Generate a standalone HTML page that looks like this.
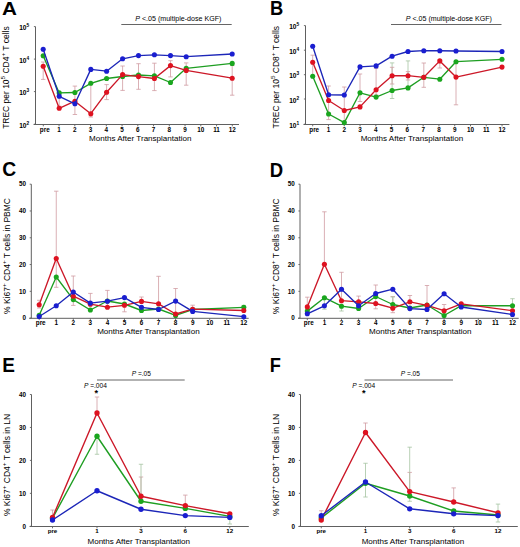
<!DOCTYPE html>
<html><head><meta charset="utf-8"><style>
html,body{margin:0;padding:0;background:#fff;}
svg{display:block;font-family:"Liberation Sans", sans-serif;}
</style></head><body>
<svg width="520" height="547" viewBox="0 0 520 547">
<rect width="520" height="547" fill="#fff"/>
<text transform="translate(2.10,14.70) scale(1.1,1)" x="0" y="0" font-size="18.8" font-weight="bold">A</text>
<line x1="35.50" y1="26.60" x2="35.50" y2="124.50" stroke="#606060" stroke-width="1.0"/>
<line x1="33.60" y1="124.50" x2="239.00" y2="124.50" stroke="#606060" stroke-width="1.0"/>
<line x1="33.90" y1="26.60" x2="35.50" y2="26.60" stroke="#606060" stroke-width="0.9"/>
<line x1="33.90" y1="59.10" x2="35.50" y2="59.10" stroke="#606060" stroke-width="0.9"/>
<line x1="33.90" y1="91.60" x2="35.50" y2="91.60" stroke="#606060" stroke-width="0.9"/>
<line x1="33.90" y1="124.20" x2="35.50" y2="124.20" stroke="#606060" stroke-width="0.9"/>
<line x1="43.30" y1="124.50" x2="43.30" y2="126.30" stroke="#606060" stroke-width="0.9"/>
<line x1="59.05" y1="124.50" x2="59.05" y2="126.30" stroke="#606060" stroke-width="0.9"/>
<line x1="74.80" y1="124.50" x2="74.80" y2="126.30" stroke="#606060" stroke-width="0.9"/>
<line x1="90.55" y1="124.50" x2="90.55" y2="126.30" stroke="#606060" stroke-width="0.9"/>
<line x1="106.30" y1="124.50" x2="106.30" y2="126.30" stroke="#606060" stroke-width="0.9"/>
<line x1="122.05" y1="124.50" x2="122.05" y2="126.30" stroke="#606060" stroke-width="0.9"/>
<line x1="137.80" y1="124.50" x2="137.80" y2="126.30" stroke="#606060" stroke-width="0.9"/>
<line x1="153.55" y1="124.50" x2="153.55" y2="126.30" stroke="#606060" stroke-width="0.9"/>
<line x1="169.30" y1="124.50" x2="169.30" y2="126.30" stroke="#606060" stroke-width="0.9"/>
<line x1="185.05" y1="124.50" x2="185.05" y2="126.30" stroke="#606060" stroke-width="0.9"/>
<line x1="200.80" y1="124.50" x2="200.80" y2="126.30" stroke="#606060" stroke-width="0.9"/>
<line x1="216.55" y1="124.50" x2="216.55" y2="126.30" stroke="#606060" stroke-width="0.9"/>
<line x1="232.30" y1="124.50" x2="232.30" y2="126.30" stroke="#606060" stroke-width="0.9"/>
<text x="29.20" y="30.30" font-size="6.6" font-weight="bold" text-anchor="end">10<tspan font-size="4.75" dy="-2.97">5</tspan></text>
<text x="29.20" y="62.80" font-size="6.6" font-weight="bold" text-anchor="end">10<tspan font-size="4.75" dy="-2.97">4</tspan></text>
<text x="29.20" y="95.30" font-size="6.6" font-weight="bold" text-anchor="end">10<tspan font-size="4.75" dy="-2.97">3</tspan></text>
<text x="29.20" y="127.90" font-size="6.6" font-weight="bold" text-anchor="end">10<tspan font-size="4.75" dy="-2.97">2</tspan></text>
<text x="44.80" y="131.70" font-size="6.35" font-weight="bold" text-anchor="middle" fill="#000" >pre</text>
<text x="59.05" y="131.70" font-size="6.35" font-weight="bold" text-anchor="middle" fill="#000" >1</text>
<text x="74.80" y="131.70" font-size="6.35" font-weight="bold" text-anchor="middle" fill="#000" >2</text>
<text x="90.55" y="131.70" font-size="6.35" font-weight="bold" text-anchor="middle" fill="#000" >3</text>
<text x="106.30" y="131.70" font-size="6.35" font-weight="bold" text-anchor="middle" fill="#000" >4</text>
<text x="122.05" y="131.70" font-size="6.35" font-weight="bold" text-anchor="middle" fill="#000" >5</text>
<text x="137.80" y="131.70" font-size="6.35" font-weight="bold" text-anchor="middle" fill="#000" >6</text>
<text x="153.55" y="131.70" font-size="6.35" font-weight="bold" text-anchor="middle" fill="#000" >7</text>
<text x="169.30" y="131.70" font-size="6.35" font-weight="bold" text-anchor="middle" fill="#000" >8</text>
<text x="185.05" y="131.70" font-size="6.35" font-weight="bold" text-anchor="middle" fill="#000" >9</text>
<text x="200.80" y="131.70" font-size="6.35" font-weight="bold" text-anchor="middle" fill="#000" >10</text>
<text x="216.55" y="131.70" font-size="6.35" font-weight="bold" text-anchor="middle" fill="#000" >11</text>
<text x="232.30" y="131.70" font-size="6.35" font-weight="bold" text-anchor="middle" fill="#000" >12</text>
<text x="140.30" y="140.50" font-size="8.05" font-weight="normal" text-anchor="middle" fill="#000" >Months After Transplantation</text>
<text transform="translate(9.10,77.60) rotate(-90) scale(1.035,1)" x="0" y="0" font-size="8.2" text-anchor="middle">TREC per 10<tspan font-size="6.15" dy="-3.77">5</tspan><tspan dy="3.77"> CD4</tspan><tspan font-size="6.15" dy="-3.77">+</tspan><tspan dy="3.77"> T cells</tspan></text>
<line x1="121.30" y1="24.50" x2="231.70" y2="24.50" stroke="#666" stroke-width="1.0"/>
<text x="178.3" y="21.3" font-size="7.1" text-anchor="middle"><tspan font-style="italic">P</tspan> &lt;.05 (multiple-dose KGF)</text>
<line x1="43.20" y1="62.00" x2="43.20" y2="79.40" stroke="#d09ca2" stroke-width="0.8"/>
<line x1="41.00" y1="62.00" x2="45.40" y2="62.00" stroke="#d09ca2" stroke-width="0.8"/>
<line x1="41.00" y1="79.40" x2="45.40" y2="79.40" stroke="#d09ca2" stroke-width="0.8"/>
<line x1="59.20" y1="94.70" x2="59.20" y2="106.20" stroke="#d09ca2" stroke-width="0.8"/>
<line x1="57.00" y1="94.70" x2="61.40" y2="94.70" stroke="#d09ca2" stroke-width="0.8"/>
<line x1="57.00" y1="106.20" x2="61.40" y2="106.20" stroke="#d09ca2" stroke-width="0.8"/>
<line x1="74.90" y1="86.10" x2="74.90" y2="114.50" stroke="#d09ca2" stroke-width="0.8"/>
<line x1="72.70" y1="86.10" x2="77.10" y2="86.10" stroke="#d09ca2" stroke-width="0.8"/>
<line x1="72.70" y1="114.50" x2="77.10" y2="114.50" stroke="#d09ca2" stroke-width="0.8"/>
<line x1="90.80" y1="83.80" x2="90.80" y2="117.00" stroke="#d09ca2" stroke-width="0.8"/>
<line x1="88.60" y1="83.80" x2="93.00" y2="83.80" stroke="#d09ca2" stroke-width="0.8"/>
<line x1="88.60" y1="117.00" x2="93.00" y2="117.00" stroke="#d09ca2" stroke-width="0.8"/>
<line x1="106.60" y1="84.60" x2="106.60" y2="99.60" stroke="#d09ca2" stroke-width="0.8"/>
<line x1="104.40" y1="84.60" x2="108.80" y2="84.60" stroke="#d09ca2" stroke-width="0.8"/>
<line x1="104.40" y1="99.60" x2="108.80" y2="99.60" stroke="#d09ca2" stroke-width="0.8"/>
<line x1="122.60" y1="66.00" x2="122.60" y2="90.40" stroke="#d09ca2" stroke-width="0.8"/>
<line x1="120.40" y1="66.00" x2="124.80" y2="66.00" stroke="#d09ca2" stroke-width="0.8"/>
<line x1="120.40" y1="90.40" x2="124.80" y2="90.40" stroke="#d09ca2" stroke-width="0.8"/>
<line x1="138.50" y1="63.70" x2="138.50" y2="89.30" stroke="#d09ca2" stroke-width="0.8"/>
<line x1="136.30" y1="63.70" x2="140.70" y2="63.70" stroke="#d09ca2" stroke-width="0.8"/>
<line x1="136.30" y1="89.30" x2="140.70" y2="89.30" stroke="#d09ca2" stroke-width="0.8"/>
<line x1="154.40" y1="63.20" x2="154.40" y2="90.60" stroke="#d09ca2" stroke-width="0.8"/>
<line x1="152.20" y1="63.20" x2="156.60" y2="63.20" stroke="#d09ca2" stroke-width="0.8"/>
<line x1="152.20" y1="90.60" x2="156.60" y2="90.60" stroke="#d09ca2" stroke-width="0.8"/>
<line x1="170.50" y1="60.70" x2="170.50" y2="76.90" stroke="#d09ca2" stroke-width="0.8"/>
<line x1="168.30" y1="60.70" x2="172.70" y2="60.70" stroke="#d09ca2" stroke-width="0.8"/>
<line x1="168.30" y1="76.90" x2="172.70" y2="76.90" stroke="#d09ca2" stroke-width="0.8"/>
<line x1="186.20" y1="62.90" x2="186.20" y2="85.20" stroke="#d09ca2" stroke-width="0.8"/>
<line x1="184.00" y1="62.90" x2="188.40" y2="62.90" stroke="#d09ca2" stroke-width="0.8"/>
<line x1="184.00" y1="85.20" x2="188.40" y2="85.20" stroke="#d09ca2" stroke-width="0.8"/>
<line x1="232.20" y1="65.60" x2="232.20" y2="95.20" stroke="#d09ca2" stroke-width="0.8"/>
<line x1="230.00" y1="65.60" x2="234.40" y2="65.60" stroke="#d09ca2" stroke-width="0.8"/>
<line x1="230.00" y1="95.20" x2="234.40" y2="95.20" stroke="#d09ca2" stroke-width="0.8"/>
<polyline points="43.20,55.80 59.20,92.90 74.90,92.50 90.80,83.30 106.60,78.50 122.60,76.50 138.50,75.00 154.40,75.80 170.50,82.50 186.20,68.30 232.20,63.40" fill="none" stroke="#1e9e22" stroke-width="1.35" stroke-linejoin="round"/>
<circle cx="43.20" cy="55.80" r="2.55" fill="#1aa61e"/>
<circle cx="59.20" cy="92.90" r="2.55" fill="#1aa61e"/>
<circle cx="74.90" cy="92.50" r="2.55" fill="#1aa61e"/>
<circle cx="90.80" cy="83.30" r="2.55" fill="#1aa61e"/>
<circle cx="106.60" cy="78.50" r="2.55" fill="#1aa61e"/>
<circle cx="122.60" cy="76.50" r="2.55" fill="#1aa61e"/>
<circle cx="138.50" cy="75.00" r="2.55" fill="#1aa61e"/>
<circle cx="154.40" cy="75.80" r="2.55" fill="#1aa61e"/>
<circle cx="170.50" cy="82.50" r="2.55" fill="#1aa61e"/>
<circle cx="186.20" cy="68.30" r="2.55" fill="#1aa61e"/>
<circle cx="232.20" cy="63.40" r="2.55" fill="#1aa61e"/>
<polyline points="43.20,66.30 59.20,108.30 74.90,101.20 90.80,113.70 106.60,92.30 122.60,74.60 138.50,76.60 154.40,78.50 170.50,65.60 186.20,70.40 232.20,78.20" fill="none" stroke="#cc1828" stroke-width="1.35" stroke-linejoin="round"/>
<circle cx="43.20" cy="66.30" r="2.55" fill="#de1220"/>
<circle cx="59.20" cy="108.30" r="2.55" fill="#de1220"/>
<circle cx="74.90" cy="101.20" r="2.55" fill="#de1220"/>
<circle cx="90.80" cy="113.70" r="2.55" fill="#de1220"/>
<circle cx="106.60" cy="92.30" r="2.55" fill="#de1220"/>
<circle cx="122.60" cy="74.60" r="2.55" fill="#de1220"/>
<circle cx="138.50" cy="76.60" r="2.55" fill="#de1220"/>
<circle cx="154.40" cy="78.50" r="2.55" fill="#de1220"/>
<circle cx="170.50" cy="65.60" r="2.55" fill="#de1220"/>
<circle cx="186.20" cy="70.40" r="2.55" fill="#de1220"/>
<circle cx="232.20" cy="78.20" r="2.55" fill="#de1220"/>
<polyline points="43.20,49.20 59.20,96.30 74.90,103.80 90.80,69.40 106.60,71.20 122.60,58.80 138.50,55.60 154.40,54.80 170.50,55.60 186.20,56.70 232.20,54.00" fill="none" stroke="#1c26b8" stroke-width="1.35" stroke-linejoin="round"/>
<circle cx="43.20" cy="49.20" r="2.55" fill="#1a1ed0"/>
<circle cx="59.20" cy="96.30" r="2.55" fill="#1a1ed0"/>
<circle cx="74.90" cy="103.80" r="2.55" fill="#1a1ed0"/>
<circle cx="90.80" cy="69.40" r="2.55" fill="#1a1ed0"/>
<circle cx="106.60" cy="71.20" r="2.55" fill="#1a1ed0"/>
<circle cx="122.60" cy="58.80" r="2.55" fill="#1a1ed0"/>
<circle cx="138.50" cy="55.60" r="2.55" fill="#1a1ed0"/>
<circle cx="154.40" cy="54.80" r="2.55" fill="#1a1ed0"/>
<circle cx="170.50" cy="55.60" r="2.55" fill="#1a1ed0"/>
<circle cx="186.20" cy="56.70" r="2.55" fill="#1a1ed0"/>
<circle cx="232.20" cy="54.00" r="2.55" fill="#1a1ed0"/>
<text transform="translate(270.00,14.90) scale(0.95,1)" x="0" y="0" font-size="19.3" font-weight="bold">B</text>
<line x1="305.50" y1="25.60" x2="305.50" y2="124.50" stroke="#606060" stroke-width="1.0"/>
<line x1="303.50" y1="124.50" x2="509.40" y2="124.50" stroke="#606060" stroke-width="1.0"/>
<line x1="303.90" y1="25.60" x2="305.50" y2="25.60" stroke="#606060" stroke-width="0.9"/>
<line x1="303.90" y1="50.20" x2="305.50" y2="50.20" stroke="#606060" stroke-width="0.9"/>
<line x1="303.90" y1="74.70" x2="305.50" y2="74.70" stroke="#606060" stroke-width="0.9"/>
<line x1="303.90" y1="99.00" x2="305.50" y2="99.00" stroke="#606060" stroke-width="0.9"/>
<line x1="303.90" y1="124.20" x2="305.50" y2="124.20" stroke="#606060" stroke-width="0.9"/>
<line x1="312.70" y1="124.50" x2="312.70" y2="126.30" stroke="#606060" stroke-width="0.9"/>
<line x1="328.48" y1="124.50" x2="328.48" y2="126.30" stroke="#606060" stroke-width="0.9"/>
<line x1="344.26" y1="124.50" x2="344.26" y2="126.30" stroke="#606060" stroke-width="0.9"/>
<line x1="360.04" y1="124.50" x2="360.04" y2="126.30" stroke="#606060" stroke-width="0.9"/>
<line x1="375.82" y1="124.50" x2="375.82" y2="126.30" stroke="#606060" stroke-width="0.9"/>
<line x1="391.60" y1="124.50" x2="391.60" y2="126.30" stroke="#606060" stroke-width="0.9"/>
<line x1="407.38" y1="124.50" x2="407.38" y2="126.30" stroke="#606060" stroke-width="0.9"/>
<line x1="423.16" y1="124.50" x2="423.16" y2="126.30" stroke="#606060" stroke-width="0.9"/>
<line x1="438.94" y1="124.50" x2="438.94" y2="126.30" stroke="#606060" stroke-width="0.9"/>
<line x1="454.72" y1="124.50" x2="454.72" y2="126.30" stroke="#606060" stroke-width="0.9"/>
<line x1="470.50" y1="124.50" x2="470.50" y2="126.30" stroke="#606060" stroke-width="0.9"/>
<line x1="486.28" y1="124.50" x2="486.28" y2="126.30" stroke="#606060" stroke-width="0.9"/>
<line x1="502.06" y1="124.50" x2="502.06" y2="126.30" stroke="#606060" stroke-width="0.9"/>
<text x="299.20" y="29.30" font-size="6.6" font-weight="bold" text-anchor="end">10<tspan font-size="4.75" dy="-2.97">5</tspan></text>
<text x="299.20" y="53.90" font-size="6.6" font-weight="bold" text-anchor="end">10<tspan font-size="4.75" dy="-2.97">4</tspan></text>
<text x="299.20" y="78.40" font-size="6.6" font-weight="bold" text-anchor="end">10<tspan font-size="4.75" dy="-2.97">3</tspan></text>
<text x="299.20" y="102.70" font-size="6.6" font-weight="bold" text-anchor="end">10<tspan font-size="4.75" dy="-2.97">2</tspan></text>
<text x="299.20" y="127.90" font-size="6.6" font-weight="bold" text-anchor="end">10<tspan font-size="4.75" dy="-2.97">1</tspan></text>
<text x="314.20" y="131.80" font-size="6.35" font-weight="bold" text-anchor="middle" fill="#000" >pre</text>
<text x="328.48" y="131.80" font-size="6.35" font-weight="bold" text-anchor="middle" fill="#000" >1</text>
<text x="344.26" y="131.80" font-size="6.35" font-weight="bold" text-anchor="middle" fill="#000" >2</text>
<text x="360.04" y="131.80" font-size="6.35" font-weight="bold" text-anchor="middle" fill="#000" >3</text>
<text x="375.82" y="131.80" font-size="6.35" font-weight="bold" text-anchor="middle" fill="#000" >4</text>
<text x="391.60" y="131.80" font-size="6.35" font-weight="bold" text-anchor="middle" fill="#000" >5</text>
<text x="407.38" y="131.80" font-size="6.35" font-weight="bold" text-anchor="middle" fill="#000" >6</text>
<text x="423.16" y="131.80" font-size="6.35" font-weight="bold" text-anchor="middle" fill="#000" >7</text>
<text x="438.94" y="131.80" font-size="6.35" font-weight="bold" text-anchor="middle" fill="#000" >8</text>
<text x="454.72" y="131.80" font-size="6.35" font-weight="bold" text-anchor="middle" fill="#000" >9</text>
<text x="470.50" y="131.80" font-size="6.35" font-weight="bold" text-anchor="middle" fill="#000" >10</text>
<text x="486.28" y="131.80" font-size="6.35" font-weight="bold" text-anchor="middle" fill="#000" >11</text>
<text x="502.06" y="131.80" font-size="6.35" font-weight="bold" text-anchor="middle" fill="#000" >12</text>
<text x="411.90" y="140.50" font-size="8.05" font-weight="normal" text-anchor="middle" fill="#000" >Months After Transplantation</text>
<text transform="translate(279.00,77.25) rotate(-90) scale(1.035,1)" x="0" y="0" font-size="8.2" text-anchor="middle">TREC per 10<tspan font-size="6.15" dy="-3.77">5</tspan><tspan dy="3.77"> CD8</tspan><tspan font-size="6.15" dy="-3.77">+</tspan><tspan dy="3.77"> T cells</tspan></text>
<line x1="391.00" y1="24.50" x2="501.50" y2="24.50" stroke="#666" stroke-width="1.0"/>
<text x="448.8" y="21.3" font-size="7.1" text-anchor="middle"><tspan font-style="italic">P</tspan> &lt;.05 (multiple-dose KGF)</text>
<line x1="312.70" y1="55.20" x2="312.70" y2="76.00" stroke="#d09ca2" stroke-width="0.8"/>
<line x1="310.50" y1="55.20" x2="314.90" y2="55.20" stroke="#d09ca2" stroke-width="0.8"/>
<line x1="310.50" y1="76.00" x2="314.90" y2="76.00" stroke="#d09ca2" stroke-width="0.8"/>
<line x1="328.60" y1="86.00" x2="328.60" y2="119.60" stroke="#d09ca2" stroke-width="0.8"/>
<line x1="326.40" y1="86.00" x2="330.80" y2="86.00" stroke="#d09ca2" stroke-width="0.8"/>
<line x1="326.40" y1="119.60" x2="330.80" y2="119.60" stroke="#d09ca2" stroke-width="0.8"/>
<line x1="344.30" y1="87.00" x2="344.30" y2="123.00" stroke="#d09ca2" stroke-width="0.8"/>
<line x1="342.10" y1="87.00" x2="346.50" y2="87.00" stroke="#d09ca2" stroke-width="0.8"/>
<line x1="342.10" y1="123.00" x2="346.50" y2="123.00" stroke="#d09ca2" stroke-width="0.8"/>
<line x1="360.00" y1="74.00" x2="360.00" y2="101.50" stroke="#d09ca2" stroke-width="0.8"/>
<line x1="357.80" y1="74.00" x2="362.20" y2="74.00" stroke="#d09ca2" stroke-width="0.8"/>
<line x1="357.80" y1="101.50" x2="362.20" y2="101.50" stroke="#d09ca2" stroke-width="0.8"/>
<line x1="376.10" y1="68.30" x2="376.10" y2="95.00" stroke="#d09ca2" stroke-width="0.8"/>
<line x1="373.90" y1="68.30" x2="378.30" y2="68.30" stroke="#d09ca2" stroke-width="0.8"/>
<line x1="373.90" y1="95.00" x2="378.30" y2="95.00" stroke="#d09ca2" stroke-width="0.8"/>
<line x1="392.10" y1="62.90" x2="392.10" y2="98.50" stroke="#a6c4a2" stroke-width="0.8"/>
<line x1="389.90" y1="62.90" x2="394.30" y2="62.90" stroke="#a6c4a2" stroke-width="0.8"/>
<line x1="389.90" y1="98.50" x2="394.30" y2="98.50" stroke="#a6c4a2" stroke-width="0.8"/>
<line x1="408.00" y1="60.90" x2="408.00" y2="88.00" stroke="#a6c4a2" stroke-width="0.8"/>
<line x1="405.80" y1="60.90" x2="410.20" y2="60.90" stroke="#a6c4a2" stroke-width="0.8"/>
<line x1="405.80" y1="88.00" x2="410.20" y2="88.00" stroke="#a6c4a2" stroke-width="0.8"/>
<line x1="423.80" y1="63.00" x2="423.80" y2="87.30" stroke="#d09ca2" stroke-width="0.8"/>
<line x1="421.60" y1="63.00" x2="426.00" y2="63.00" stroke="#d09ca2" stroke-width="0.8"/>
<line x1="421.60" y1="87.30" x2="426.00" y2="87.30" stroke="#d09ca2" stroke-width="0.8"/>
<line x1="439.80" y1="60.00" x2="439.80" y2="68.00" stroke="#d09ca2" stroke-width="0.8"/>
<line x1="437.60" y1="60.00" x2="442.00" y2="60.00" stroke="#d09ca2" stroke-width="0.8"/>
<line x1="437.60" y1="68.00" x2="442.00" y2="68.00" stroke="#d09ca2" stroke-width="0.8"/>
<line x1="456.00" y1="63.00" x2="456.00" y2="104.80" stroke="#d09ca2" stroke-width="0.8"/>
<line x1="453.80" y1="63.00" x2="458.20" y2="63.00" stroke="#d09ca2" stroke-width="0.8"/>
<line x1="453.80" y1="104.80" x2="458.20" y2="104.80" stroke="#d09ca2" stroke-width="0.8"/>
<line x1="392.10" y1="67.30" x2="392.10" y2="84.00" stroke="#d09ca2" stroke-width="0.8"/>
<line x1="389.90" y1="67.30" x2="394.30" y2="67.30" stroke="#d09ca2" stroke-width="0.8"/>
<line x1="389.90" y1="84.00" x2="394.30" y2="84.00" stroke="#d09ca2" stroke-width="0.8"/>
<line x1="408.00" y1="71.60" x2="408.00" y2="80.00" stroke="#d09ca2" stroke-width="0.8"/>
<line x1="405.80" y1="71.60" x2="410.20" y2="71.60" stroke="#d09ca2" stroke-width="0.8"/>
<line x1="405.80" y1="80.00" x2="410.20" y2="80.00" stroke="#d09ca2" stroke-width="0.8"/>
<polyline points="312.70,76.30 328.60,114.00 344.30,122.60 360.00,92.80 376.10,97.10 392.10,90.50 408.00,87.90 423.80,77.30 439.80,79.20 456.00,61.70 502.00,59.30" fill="none" stroke="#1e9e22" stroke-width="1.35" stroke-linejoin="round"/>
<circle cx="312.70" cy="76.30" r="2.55" fill="#1aa61e"/>
<circle cx="328.60" cy="114.00" r="2.55" fill="#1aa61e"/>
<circle cx="344.30" cy="122.60" r="2.55" fill="#1aa61e"/>
<circle cx="360.00" cy="92.80" r="2.55" fill="#1aa61e"/>
<circle cx="376.10" cy="97.10" r="2.55" fill="#1aa61e"/>
<circle cx="392.10" cy="90.50" r="2.55" fill="#1aa61e"/>
<circle cx="408.00" cy="87.90" r="2.55" fill="#1aa61e"/>
<circle cx="423.80" cy="77.30" r="2.55" fill="#1aa61e"/>
<circle cx="439.80" cy="79.20" r="2.55" fill="#1aa61e"/>
<circle cx="456.00" cy="61.70" r="2.55" fill="#1aa61e"/>
<circle cx="502.00" cy="59.30" r="2.55" fill="#1aa61e"/>
<polyline points="312.70,62.30 328.60,100.50 344.30,110.50 360.00,106.90 376.10,89.80 392.10,75.70 408.00,75.70 423.80,77.30 439.80,60.90 456.00,77.10 502.00,67.10" fill="none" stroke="#cc1828" stroke-width="1.35" stroke-linejoin="round"/>
<circle cx="312.70" cy="62.30" r="2.55" fill="#de1220"/>
<circle cx="328.60" cy="100.50" r="2.55" fill="#de1220"/>
<circle cx="344.30" cy="110.50" r="2.55" fill="#de1220"/>
<circle cx="360.00" cy="106.90" r="2.55" fill="#de1220"/>
<circle cx="376.10" cy="89.80" r="2.55" fill="#de1220"/>
<circle cx="392.10" cy="75.70" r="2.55" fill="#de1220"/>
<circle cx="408.00" cy="75.70" r="2.55" fill="#de1220"/>
<circle cx="423.80" cy="77.30" r="2.55" fill="#de1220"/>
<circle cx="439.80" cy="60.90" r="2.55" fill="#de1220"/>
<circle cx="456.00" cy="77.10" r="2.55" fill="#de1220"/>
<circle cx="502.00" cy="67.10" r="2.55" fill="#de1220"/>
<polyline points="312.70,46.20 328.60,94.80 344.30,95.00 360.00,66.90 376.10,65.90 392.10,56.20 408.00,51.50 423.80,50.70 439.80,50.70 456.00,51.00 502.00,51.50" fill="none" stroke="#1c26b8" stroke-width="1.35" stroke-linejoin="round"/>
<circle cx="312.70" cy="46.20" r="2.55" fill="#1a1ed0"/>
<circle cx="328.60" cy="94.80" r="2.55" fill="#1a1ed0"/>
<circle cx="344.30" cy="95.00" r="2.55" fill="#1a1ed0"/>
<circle cx="360.00" cy="66.90" r="2.55" fill="#1a1ed0"/>
<circle cx="376.10" cy="65.90" r="2.55" fill="#1a1ed0"/>
<circle cx="392.10" cy="56.20" r="2.55" fill="#1a1ed0"/>
<circle cx="408.00" cy="51.50" r="2.55" fill="#1a1ed0"/>
<circle cx="423.80" cy="50.70" r="2.55" fill="#1a1ed0"/>
<circle cx="439.80" cy="50.70" r="2.55" fill="#1a1ed0"/>
<circle cx="456.00" cy="51.00" r="2.55" fill="#1a1ed0"/>
<circle cx="502.00" cy="51.50" r="2.55" fill="#1a1ed0"/>
<text transform="translate(2.20,176.40) scale(1.0,1)" x="0" y="0" font-size="19.3" font-weight="bold">C</text>
<line x1="31.30" y1="184.20" x2="31.30" y2="318.30" stroke="#606060" stroke-width="1.0"/>
<line x1="29.20" y1="318.30" x2="248.70" y2="318.30" stroke="#606060" stroke-width="1.0"/>
<line x1="29.70" y1="318.10" x2="31.30" y2="318.10" stroke="#606060" stroke-width="0.9"/>
<line x1="29.70" y1="291.32" x2="31.30" y2="291.32" stroke="#606060" stroke-width="0.9"/>
<line x1="29.70" y1="264.54" x2="31.30" y2="264.54" stroke="#606060" stroke-width="0.9"/>
<line x1="29.70" y1="237.76" x2="31.30" y2="237.76" stroke="#606060" stroke-width="0.9"/>
<line x1="29.70" y1="210.98" x2="31.30" y2="210.98" stroke="#606060" stroke-width="0.9"/>
<line x1="29.70" y1="184.20" x2="31.30" y2="184.20" stroke="#606060" stroke-width="0.9"/>
<line x1="39.20" y1="318.30" x2="39.20" y2="320.10" stroke="#606060" stroke-width="0.9"/>
<line x1="56.25" y1="318.30" x2="56.25" y2="320.10" stroke="#606060" stroke-width="0.9"/>
<line x1="73.30" y1="318.30" x2="73.30" y2="320.10" stroke="#606060" stroke-width="0.9"/>
<line x1="90.35" y1="318.30" x2="90.35" y2="320.10" stroke="#606060" stroke-width="0.9"/>
<line x1="107.40" y1="318.30" x2="107.40" y2="320.10" stroke="#606060" stroke-width="0.9"/>
<line x1="124.45" y1="318.30" x2="124.45" y2="320.10" stroke="#606060" stroke-width="0.9"/>
<line x1="141.50" y1="318.30" x2="141.50" y2="320.10" stroke="#606060" stroke-width="0.9"/>
<line x1="158.55" y1="318.30" x2="158.55" y2="320.10" stroke="#606060" stroke-width="0.9"/>
<line x1="175.60" y1="318.30" x2="175.60" y2="320.10" stroke="#606060" stroke-width="0.9"/>
<line x1="192.65" y1="318.30" x2="192.65" y2="320.10" stroke="#606060" stroke-width="0.9"/>
<line x1="209.70" y1="318.30" x2="209.70" y2="320.10" stroke="#606060" stroke-width="0.9"/>
<line x1="226.75" y1="318.30" x2="226.75" y2="320.10" stroke="#606060" stroke-width="0.9"/>
<line x1="243.80" y1="318.30" x2="243.80" y2="320.10" stroke="#606060" stroke-width="0.9"/>
<text x="26.00" y="320.30" font-size="6.3" font-weight="bold" text-anchor="end" fill="#000" >0</text>
<text x="26.00" y="293.52" font-size="6.3" font-weight="bold" text-anchor="end" fill="#000" >10</text>
<text x="26.00" y="266.74" font-size="6.3" font-weight="bold" text-anchor="end" fill="#000" >20</text>
<text x="26.00" y="239.96" font-size="6.3" font-weight="bold" text-anchor="end" fill="#000" >30</text>
<text x="26.00" y="213.18" font-size="6.3" font-weight="bold" text-anchor="end" fill="#000" >40</text>
<text x="26.00" y="186.40" font-size="6.3" font-weight="bold" text-anchor="end" fill="#000" >50</text>
<text x="40.70" y="324.80" font-size="6.35" font-weight="bold" text-anchor="middle" fill="#000" >pre</text>
<text x="56.25" y="324.80" font-size="6.35" font-weight="bold" text-anchor="middle" fill="#000" >1</text>
<text x="73.30" y="324.80" font-size="6.35" font-weight="bold" text-anchor="middle" fill="#000" >2</text>
<text x="90.35" y="324.80" font-size="6.35" font-weight="bold" text-anchor="middle" fill="#000" >3</text>
<text x="107.40" y="324.80" font-size="6.35" font-weight="bold" text-anchor="middle" fill="#000" >4</text>
<text x="124.45" y="324.80" font-size="6.35" font-weight="bold" text-anchor="middle" fill="#000" >5</text>
<text x="141.50" y="324.80" font-size="6.35" font-weight="bold" text-anchor="middle" fill="#000" >6</text>
<text x="158.55" y="324.80" font-size="6.35" font-weight="bold" text-anchor="middle" fill="#000" >7</text>
<text x="175.60" y="324.80" font-size="6.35" font-weight="bold" text-anchor="middle" fill="#000" >8</text>
<text x="192.65" y="324.80" font-size="6.35" font-weight="bold" text-anchor="middle" fill="#000" >9</text>
<text x="209.70" y="324.80" font-size="6.35" font-weight="bold" text-anchor="middle" fill="#000" >10</text>
<text x="226.75" y="324.80" font-size="6.35" font-weight="bold" text-anchor="middle" fill="#000" >11</text>
<text x="243.80" y="324.80" font-size="6.35" font-weight="bold" text-anchor="middle" fill="#000" >12</text>
<text x="148.40" y="334.30" font-size="8.05" font-weight="normal" text-anchor="middle" fill="#000" >Months After Transplantation</text>
<text transform="translate(10.00,256.00) rotate(-90) scale(1.035,1)" x="0" y="0" font-size="8.2" text-anchor="middle">% Ki67<tspan font-size="6.15" dy="-3.77">+</tspan><tspan dy="3.77"> CD4</tspan><tspan font-size="6.15" dy="-3.77">+</tspan><tspan dy="3.77"> T cells in PBMC</tspan></text>
<line x1="39.20" y1="300.30" x2="39.20" y2="308.00" stroke="#d09ca2" stroke-width="0.8"/>
<line x1="37.00" y1="300.30" x2="41.40" y2="300.30" stroke="#d09ca2" stroke-width="0.8"/>
<line x1="37.00" y1="308.00" x2="41.40" y2="308.00" stroke="#d09ca2" stroke-width="0.8"/>
<line x1="56.25" y1="191.20" x2="56.25" y2="258.00" stroke="#d09ca2" stroke-width="0.8"/>
<line x1="54.05" y1="191.20" x2="58.45" y2="191.20" stroke="#d09ca2" stroke-width="0.8"/>
<line x1="54.05" y1="258.00" x2="58.45" y2="258.00" stroke="#d09ca2" stroke-width="0.8"/>
<line x1="73.30" y1="276.00" x2="73.30" y2="305.40" stroke="#d09ca2" stroke-width="0.8"/>
<line x1="71.10" y1="276.00" x2="75.50" y2="276.00" stroke="#d09ca2" stroke-width="0.8"/>
<line x1="71.10" y1="305.40" x2="75.50" y2="305.40" stroke="#d09ca2" stroke-width="0.8"/>
<line x1="90.35" y1="293.40" x2="90.35" y2="304.00" stroke="#d09ca2" stroke-width="0.8"/>
<line x1="88.15" y1="293.40" x2="92.55" y2="293.40" stroke="#d09ca2" stroke-width="0.8"/>
<line x1="88.15" y1="304.00" x2="92.55" y2="304.00" stroke="#d09ca2" stroke-width="0.8"/>
<line x1="107.40" y1="290.40" x2="107.40" y2="307.00" stroke="#d09ca2" stroke-width="0.8"/>
<line x1="105.20" y1="290.40" x2="109.60" y2="290.40" stroke="#d09ca2" stroke-width="0.8"/>
<line x1="105.20" y1="307.00" x2="109.60" y2="307.00" stroke="#d09ca2" stroke-width="0.8"/>
<line x1="124.45" y1="305.00" x2="124.45" y2="311.80" stroke="#d09ca2" stroke-width="0.8"/>
<line x1="122.25" y1="305.00" x2="126.65" y2="305.00" stroke="#d09ca2" stroke-width="0.8"/>
<line x1="122.25" y1="311.80" x2="126.65" y2="311.80" stroke="#d09ca2" stroke-width="0.8"/>
<line x1="141.50" y1="297.00" x2="141.50" y2="301.00" stroke="#d09ca2" stroke-width="0.8"/>
<line x1="139.30" y1="297.00" x2="143.70" y2="297.00" stroke="#d09ca2" stroke-width="0.8"/>
<line x1="139.30" y1="301.00" x2="143.70" y2="301.00" stroke="#d09ca2" stroke-width="0.8"/>
<line x1="158.55" y1="276.30" x2="158.55" y2="304.00" stroke="#d09ca2" stroke-width="0.8"/>
<line x1="156.35" y1="276.30" x2="160.75" y2="276.30" stroke="#d09ca2" stroke-width="0.8"/>
<line x1="156.35" y1="304.00" x2="160.75" y2="304.00" stroke="#d09ca2" stroke-width="0.8"/>
<line x1="175.60" y1="288.50" x2="175.60" y2="314.00" stroke="#d09ca2" stroke-width="0.8"/>
<line x1="173.40" y1="288.50" x2="177.80" y2="288.50" stroke="#d09ca2" stroke-width="0.8"/>
<line x1="173.40" y1="314.00" x2="177.80" y2="314.00" stroke="#d09ca2" stroke-width="0.8"/>
<line x1="192.65" y1="305.20" x2="192.65" y2="309.00" stroke="#d09ca2" stroke-width="0.8"/>
<line x1="190.45" y1="305.20" x2="194.85" y2="305.20" stroke="#d09ca2" stroke-width="0.8"/>
<line x1="190.45" y1="309.00" x2="194.85" y2="309.00" stroke="#d09ca2" stroke-width="0.8"/>
<line x1="243.80" y1="305.40" x2="243.80" y2="310.00" stroke="#a6c4a2" stroke-width="0.8"/>
<line x1="241.60" y1="305.40" x2="246.00" y2="305.40" stroke="#a6c4a2" stroke-width="0.8"/>
<line x1="241.60" y1="310.00" x2="246.00" y2="310.00" stroke="#a6c4a2" stroke-width="0.8"/>
<line x1="56.25" y1="258.00" x2="56.25" y2="287.30" stroke="#d09ca2" stroke-width="0.8"/>
<line x1="54.05" y1="287.30" x2="58.45" y2="287.30" stroke="#d09ca2" stroke-width="0.8"/>
<polyline points="39.20,315.20 56.25,277.00 73.30,299.60 90.35,310.00 107.40,301.00 124.45,304.00 141.50,310.50 158.55,309.00 175.60,315.40 192.65,309.50 243.80,307.30" fill="none" stroke="#1e9e22" stroke-width="1.35" stroke-linejoin="round"/>
<circle cx="39.20" cy="315.20" r="2.55" fill="#1aa61e"/>
<circle cx="56.25" cy="277.00" r="2.55" fill="#1aa61e"/>
<circle cx="73.30" cy="299.60" r="2.55" fill="#1aa61e"/>
<circle cx="90.35" cy="310.00" r="2.55" fill="#1aa61e"/>
<circle cx="107.40" cy="301.00" r="2.55" fill="#1aa61e"/>
<circle cx="124.45" cy="304.00" r="2.55" fill="#1aa61e"/>
<circle cx="141.50" cy="310.50" r="2.55" fill="#1aa61e"/>
<circle cx="158.55" cy="309.00" r="2.55" fill="#1aa61e"/>
<circle cx="175.60" cy="315.40" r="2.55" fill="#1aa61e"/>
<circle cx="192.65" cy="309.50" r="2.55" fill="#1aa61e"/>
<circle cx="243.80" cy="307.30" r="2.55" fill="#1aa61e"/>
<polyline points="39.20,304.70 56.25,258.50 73.30,296.20 90.35,304.20 107.40,307.20 124.45,305.30 141.50,301.40 158.55,303.80 175.60,314.00 192.65,309.20 243.80,310.50" fill="none" stroke="#cc1828" stroke-width="1.35" stroke-linejoin="round"/>
<circle cx="39.20" cy="304.70" r="2.55" fill="#de1220"/>
<circle cx="56.25" cy="258.50" r="2.55" fill="#de1220"/>
<circle cx="73.30" cy="296.20" r="2.55" fill="#de1220"/>
<circle cx="90.35" cy="304.20" r="2.55" fill="#de1220"/>
<circle cx="107.40" cy="307.20" r="2.55" fill="#de1220"/>
<circle cx="124.45" cy="305.30" r="2.55" fill="#de1220"/>
<circle cx="141.50" cy="301.40" r="2.55" fill="#de1220"/>
<circle cx="158.55" cy="303.80" r="2.55" fill="#de1220"/>
<circle cx="175.60" cy="314.00" r="2.55" fill="#de1220"/>
<circle cx="192.65" cy="309.20" r="2.55" fill="#de1220"/>
<circle cx="243.80" cy="310.50" r="2.55" fill="#de1220"/>
<polyline points="39.20,316.50 56.25,305.80 73.30,292.00 90.35,303.10 107.40,301.20 124.45,297.60 141.50,307.30 158.55,309.50 175.60,301.10 192.65,311.40 243.80,316.70" fill="none" stroke="#1c26b8" stroke-width="1.35" stroke-linejoin="round"/>
<circle cx="39.20" cy="316.50" r="2.55" fill="#1a1ed0"/>
<circle cx="56.25" cy="305.80" r="2.55" fill="#1a1ed0"/>
<circle cx="73.30" cy="292.00" r="2.55" fill="#1a1ed0"/>
<circle cx="90.35" cy="303.10" r="2.55" fill="#1a1ed0"/>
<circle cx="107.40" cy="301.20" r="2.55" fill="#1a1ed0"/>
<circle cx="124.45" cy="297.60" r="2.55" fill="#1a1ed0"/>
<circle cx="141.50" cy="307.30" r="2.55" fill="#1a1ed0"/>
<circle cx="158.55" cy="309.50" r="2.55" fill="#1a1ed0"/>
<circle cx="175.60" cy="301.10" r="2.55" fill="#1a1ed0"/>
<circle cx="192.65" cy="311.40" r="2.55" fill="#1a1ed0"/>
<circle cx="243.80" cy="316.70" r="2.55" fill="#1a1ed0"/>
<text transform="translate(269.70,176.70) scale(0.96,1)" x="0" y="0" font-size="19.3" font-weight="bold">D</text>
<line x1="300.00" y1="184.20" x2="300.00" y2="318.30" stroke="#606060" stroke-width="1.0"/>
<line x1="298.00" y1="318.30" x2="518.70" y2="318.30" stroke="#606060" stroke-width="1.0"/>
<line x1="298.40" y1="318.10" x2="300.00" y2="318.10" stroke="#606060" stroke-width="0.9"/>
<line x1="298.40" y1="291.32" x2="300.00" y2="291.32" stroke="#606060" stroke-width="0.9"/>
<line x1="298.40" y1="264.54" x2="300.00" y2="264.54" stroke="#606060" stroke-width="0.9"/>
<line x1="298.40" y1="237.76" x2="300.00" y2="237.76" stroke="#606060" stroke-width="0.9"/>
<line x1="298.40" y1="210.98" x2="300.00" y2="210.98" stroke="#606060" stroke-width="0.9"/>
<line x1="298.40" y1="184.20" x2="300.00" y2="184.20" stroke="#606060" stroke-width="0.9"/>
<line x1="307.30" y1="318.30" x2="307.30" y2="320.10" stroke="#606060" stroke-width="0.9"/>
<line x1="324.40" y1="318.30" x2="324.40" y2="320.10" stroke="#606060" stroke-width="0.9"/>
<line x1="341.50" y1="318.30" x2="341.50" y2="320.10" stroke="#606060" stroke-width="0.9"/>
<line x1="358.60" y1="318.30" x2="358.60" y2="320.10" stroke="#606060" stroke-width="0.9"/>
<line x1="375.70" y1="318.30" x2="375.70" y2="320.10" stroke="#606060" stroke-width="0.9"/>
<line x1="392.80" y1="318.30" x2="392.80" y2="320.10" stroke="#606060" stroke-width="0.9"/>
<line x1="409.90" y1="318.30" x2="409.90" y2="320.10" stroke="#606060" stroke-width="0.9"/>
<line x1="427.00" y1="318.30" x2="427.00" y2="320.10" stroke="#606060" stroke-width="0.9"/>
<line x1="444.10" y1="318.30" x2="444.10" y2="320.10" stroke="#606060" stroke-width="0.9"/>
<line x1="461.20" y1="318.30" x2="461.20" y2="320.10" stroke="#606060" stroke-width="0.9"/>
<line x1="478.30" y1="318.30" x2="478.30" y2="320.10" stroke="#606060" stroke-width="0.9"/>
<line x1="495.40" y1="318.30" x2="495.40" y2="320.10" stroke="#606060" stroke-width="0.9"/>
<line x1="512.50" y1="318.30" x2="512.50" y2="320.10" stroke="#606060" stroke-width="0.9"/>
<text x="294.80" y="320.30" font-size="6.3" font-weight="bold" text-anchor="end" fill="#000" >0</text>
<text x="294.80" y="293.52" font-size="6.3" font-weight="bold" text-anchor="end" fill="#000" >10</text>
<text x="294.80" y="266.74" font-size="6.3" font-weight="bold" text-anchor="end" fill="#000" >20</text>
<text x="294.80" y="239.96" font-size="6.3" font-weight="bold" text-anchor="end" fill="#000" >30</text>
<text x="294.80" y="213.18" font-size="6.3" font-weight="bold" text-anchor="end" fill="#000" >40</text>
<text x="294.80" y="186.40" font-size="6.3" font-weight="bold" text-anchor="end" fill="#000" >50</text>
<text x="308.80" y="324.80" font-size="6.35" font-weight="bold" text-anchor="middle" fill="#000" >pre</text>
<text x="324.40" y="324.80" font-size="6.35" font-weight="bold" text-anchor="middle" fill="#000" >1</text>
<text x="341.50" y="324.80" font-size="6.35" font-weight="bold" text-anchor="middle" fill="#000" >2</text>
<text x="358.60" y="324.80" font-size="6.35" font-weight="bold" text-anchor="middle" fill="#000" >3</text>
<text x="375.70" y="324.80" font-size="6.35" font-weight="bold" text-anchor="middle" fill="#000" >4</text>
<text x="392.80" y="324.80" font-size="6.35" font-weight="bold" text-anchor="middle" fill="#000" >5</text>
<text x="409.90" y="324.80" font-size="6.35" font-weight="bold" text-anchor="middle" fill="#000" >6</text>
<text x="427.00" y="324.80" font-size="6.35" font-weight="bold" text-anchor="middle" fill="#000" >7</text>
<text x="444.10" y="324.80" font-size="6.35" font-weight="bold" text-anchor="middle" fill="#000" >8</text>
<text x="461.20" y="324.80" font-size="6.35" font-weight="bold" text-anchor="middle" fill="#000" >9</text>
<text x="478.30" y="324.80" font-size="6.35" font-weight="bold" text-anchor="middle" fill="#000" >10</text>
<text x="495.40" y="324.80" font-size="6.35" font-weight="bold" text-anchor="middle" fill="#000" >11</text>
<text x="512.50" y="324.80" font-size="6.35" font-weight="bold" text-anchor="middle" fill="#000" >12</text>
<text x="420.30" y="334.00" font-size="8.05" font-weight="normal" text-anchor="middle" fill="#000" >Months After Transplantation</text>
<text transform="translate(279.00,256.20) rotate(-90) scale(1.035,1)" x="0" y="0" font-size="8.2" text-anchor="middle">% Ki67<tspan font-size="6.15" dy="-3.77">+</tspan><tspan dy="3.77"> CD8</tspan><tspan font-size="6.15" dy="-3.77">+</tspan><tspan dy="3.77"> T cells in PBMC</tspan></text>
<line x1="307.30" y1="297.20" x2="307.30" y2="307.00" stroke="#d09ca2" stroke-width="0.8"/>
<line x1="305.10" y1="297.20" x2="309.50" y2="297.20" stroke="#d09ca2" stroke-width="0.8"/>
<line x1="305.10" y1="307.00" x2="309.50" y2="307.00" stroke="#d09ca2" stroke-width="0.8"/>
<line x1="324.40" y1="211.80" x2="324.40" y2="264.00" stroke="#d09ca2" stroke-width="0.8"/>
<line x1="322.20" y1="211.80" x2="326.60" y2="211.80" stroke="#d09ca2" stroke-width="0.8"/>
<line x1="322.20" y1="264.00" x2="326.60" y2="264.00" stroke="#d09ca2" stroke-width="0.8"/>
<line x1="341.50" y1="272.30" x2="341.50" y2="301.00" stroke="#d09ca2" stroke-width="0.8"/>
<line x1="339.30" y1="272.30" x2="343.70" y2="272.30" stroke="#d09ca2" stroke-width="0.8"/>
<line x1="339.30" y1="301.00" x2="343.70" y2="301.00" stroke="#d09ca2" stroke-width="0.8"/>
<line x1="358.60" y1="296.10" x2="358.60" y2="302.00" stroke="#d09ca2" stroke-width="0.8"/>
<line x1="356.40" y1="296.10" x2="360.80" y2="296.10" stroke="#d09ca2" stroke-width="0.8"/>
<line x1="356.40" y1="302.00" x2="360.80" y2="302.00" stroke="#d09ca2" stroke-width="0.8"/>
<line x1="375.70" y1="285.00" x2="375.70" y2="308.80" stroke="#d09ca2" stroke-width="0.8"/>
<line x1="373.50" y1="285.00" x2="377.90" y2="285.00" stroke="#d09ca2" stroke-width="0.8"/>
<line x1="373.50" y1="308.80" x2="377.90" y2="308.80" stroke="#d09ca2" stroke-width="0.8"/>
<line x1="392.80" y1="296.50" x2="392.80" y2="312.70" stroke="#d09ca2" stroke-width="0.8"/>
<line x1="390.60" y1="296.50" x2="395.00" y2="296.50" stroke="#d09ca2" stroke-width="0.8"/>
<line x1="390.60" y1="312.70" x2="395.00" y2="312.70" stroke="#d09ca2" stroke-width="0.8"/>
<line x1="409.90" y1="295.50" x2="409.90" y2="302.00" stroke="#d09ca2" stroke-width="0.8"/>
<line x1="407.70" y1="295.50" x2="412.10" y2="295.50" stroke="#d09ca2" stroke-width="0.8"/>
<line x1="407.70" y1="302.00" x2="412.10" y2="302.00" stroke="#d09ca2" stroke-width="0.8"/>
<line x1="427.00" y1="285.50" x2="427.00" y2="305.00" stroke="#d09ca2" stroke-width="0.8"/>
<line x1="424.80" y1="285.50" x2="429.20" y2="285.50" stroke="#d09ca2" stroke-width="0.8"/>
<line x1="424.80" y1="305.00" x2="429.20" y2="305.00" stroke="#d09ca2" stroke-width="0.8"/>
<line x1="444.10" y1="304.50" x2="444.10" y2="311.00" stroke="#d09ca2" stroke-width="0.8"/>
<line x1="441.90" y1="304.50" x2="446.30" y2="304.50" stroke="#d09ca2" stroke-width="0.8"/>
<line x1="441.90" y1="311.00" x2="446.30" y2="311.00" stroke="#d09ca2" stroke-width="0.8"/>
<line x1="512.50" y1="298.70" x2="512.50" y2="306.00" stroke="#a6c4a2" stroke-width="0.8"/>
<line x1="510.30" y1="298.70" x2="514.70" y2="298.70" stroke="#a6c4a2" stroke-width="0.8"/>
<line x1="510.30" y1="306.00" x2="514.70" y2="306.00" stroke="#a6c4a2" stroke-width="0.8"/>
<line x1="324.40" y1="297.70" x2="324.40" y2="309.20" stroke="#a6c4a2" stroke-width="0.8"/>
<line x1="322.20" y1="297.70" x2="326.60" y2="297.70" stroke="#a6c4a2" stroke-width="0.8"/>
<line x1="322.20" y1="309.20" x2="326.60" y2="309.20" stroke="#a6c4a2" stroke-width="0.8"/>
<line x1="341.50" y1="306.00" x2="341.50" y2="311.00" stroke="#a6c4a2" stroke-width="0.8"/>
<line x1="339.30" y1="306.00" x2="343.70" y2="306.00" stroke="#a6c4a2" stroke-width="0.8"/>
<line x1="339.30" y1="311.00" x2="343.70" y2="311.00" stroke="#a6c4a2" stroke-width="0.8"/>
<line x1="392.80" y1="297.00" x2="392.80" y2="305.00" stroke="#a6c4a2" stroke-width="0.8"/>
<line x1="390.60" y1="297.00" x2="395.00" y2="297.00" stroke="#a6c4a2" stroke-width="0.8"/>
<line x1="390.60" y1="305.00" x2="395.00" y2="305.00" stroke="#a6c4a2" stroke-width="0.8"/>
<polyline points="307.30,311.10 324.40,297.70 341.50,306.20 358.60,308.50 375.70,296.50 392.80,304.50 409.90,308.00 427.00,305.00 444.10,315.50 461.20,305.70 512.50,305.70" fill="none" stroke="#1e9e22" stroke-width="1.35" stroke-linejoin="round"/>
<circle cx="307.30" cy="311.10" r="2.55" fill="#1aa61e"/>
<circle cx="324.40" cy="297.70" r="2.55" fill="#1aa61e"/>
<circle cx="341.50" cy="306.20" r="2.55" fill="#1aa61e"/>
<circle cx="358.60" cy="308.50" r="2.55" fill="#1aa61e"/>
<circle cx="375.70" cy="296.50" r="2.55" fill="#1aa61e"/>
<circle cx="392.80" cy="304.50" r="2.55" fill="#1aa61e"/>
<circle cx="409.90" cy="308.00" r="2.55" fill="#1aa61e"/>
<circle cx="427.00" cy="305.00" r="2.55" fill="#1aa61e"/>
<circle cx="444.10" cy="315.50" r="2.55" fill="#1aa61e"/>
<circle cx="461.20" cy="305.70" r="2.55" fill="#1aa61e"/>
<circle cx="512.50" cy="305.70" r="2.55" fill="#1aa61e"/>
<polyline points="307.30,306.90 324.40,264.20 341.50,300.70 358.60,301.80 375.70,303.50 392.80,308.20 409.90,301.80 427.00,305.40 444.10,310.70 461.20,303.90 512.50,310.70" fill="none" stroke="#cc1828" stroke-width="1.35" stroke-linejoin="round"/>
<circle cx="307.30" cy="306.90" r="2.55" fill="#de1220"/>
<circle cx="324.40" cy="264.20" r="2.55" fill="#de1220"/>
<circle cx="341.50" cy="300.70" r="2.55" fill="#de1220"/>
<circle cx="358.60" cy="301.80" r="2.55" fill="#de1220"/>
<circle cx="375.70" cy="303.50" r="2.55" fill="#de1220"/>
<circle cx="392.80" cy="308.20" r="2.55" fill="#de1220"/>
<circle cx="409.90" cy="301.80" r="2.55" fill="#de1220"/>
<circle cx="427.00" cy="305.40" r="2.55" fill="#de1220"/>
<circle cx="444.10" cy="310.70" r="2.55" fill="#de1220"/>
<circle cx="461.20" cy="303.90" r="2.55" fill="#de1220"/>
<circle cx="512.50" cy="310.70" r="2.55" fill="#de1220"/>
<polyline points="307.30,313.80 324.40,305.80 341.50,289.20 358.60,305.80 375.70,293.50 392.80,289.20 409.90,308.60 427.00,309.50 444.10,293.70 461.20,307.00 512.50,314.50" fill="none" stroke="#1c26b8" stroke-width="1.35" stroke-linejoin="round"/>
<circle cx="307.30" cy="313.80" r="2.55" fill="#1a1ed0"/>
<circle cx="324.40" cy="305.80" r="2.55" fill="#1a1ed0"/>
<circle cx="341.50" cy="289.20" r="2.55" fill="#1a1ed0"/>
<circle cx="358.60" cy="305.80" r="2.55" fill="#1a1ed0"/>
<circle cx="375.70" cy="293.50" r="2.55" fill="#1a1ed0"/>
<circle cx="392.80" cy="289.20" r="2.55" fill="#1a1ed0"/>
<circle cx="409.90" cy="308.60" r="2.55" fill="#1a1ed0"/>
<circle cx="427.00" cy="309.50" r="2.55" fill="#1a1ed0"/>
<circle cx="444.10" cy="293.70" r="2.55" fill="#1a1ed0"/>
<circle cx="461.20" cy="307.00" r="2.55" fill="#1a1ed0"/>
<circle cx="512.50" cy="314.50" r="2.55" fill="#1a1ed0"/>
<text transform="translate(2.20,371.90) scale(0.97,1)" x="0" y="0" font-size="19.6" font-weight="bold">E</text>
<line x1="31.50" y1="394.50" x2="31.50" y2="526.50" stroke="#606060" stroke-width="1.0"/>
<line x1="29.60" y1="526.50" x2="248.80" y2="526.50" stroke="#606060" stroke-width="1.0"/>
<line x1="29.90" y1="526.30" x2="31.50" y2="526.30" stroke="#606060" stroke-width="0.9"/>
<line x1="29.90" y1="493.35" x2="31.50" y2="493.35" stroke="#606060" stroke-width="0.9"/>
<line x1="29.90" y1="460.40" x2="31.50" y2="460.40" stroke="#606060" stroke-width="0.9"/>
<line x1="29.90" y1="427.45" x2="31.50" y2="427.45" stroke="#606060" stroke-width="0.9"/>
<line x1="29.90" y1="394.50" x2="31.50" y2="394.50" stroke="#606060" stroke-width="0.9"/>
<line x1="52.50" y1="526.50" x2="52.50" y2="528.30" stroke="#606060" stroke-width="0.9"/>
<line x1="97.00" y1="526.50" x2="97.00" y2="528.30" stroke="#606060" stroke-width="0.9"/>
<line x1="141.00" y1="526.50" x2="141.00" y2="528.30" stroke="#606060" stroke-width="0.9"/>
<line x1="185.30" y1="526.50" x2="185.30" y2="528.30" stroke="#606060" stroke-width="0.9"/>
<line x1="229.80" y1="526.50" x2="229.80" y2="528.30" stroke="#606060" stroke-width="0.9"/>
<text x="25.90" y="528.50" font-size="6.3" font-weight="bold" text-anchor="end" fill="#000" >0</text>
<text x="25.90" y="495.55" font-size="6.3" font-weight="bold" text-anchor="end" fill="#000" >10</text>
<text x="25.90" y="462.60" font-size="6.3" font-weight="bold" text-anchor="end" fill="#000" >20</text>
<text x="25.90" y="429.65" font-size="6.3" font-weight="bold" text-anchor="end" fill="#000" >30</text>
<text x="25.90" y="396.70" font-size="6.3" font-weight="bold" text-anchor="end" fill="#000" >40</text>
<text x="52.50" y="533.20" font-size="6.2" font-weight="bold" text-anchor="middle" fill="#000" >pre</text>
<text x="97.00" y="533.20" font-size="6.2" font-weight="bold" text-anchor="middle" fill="#000" >1</text>
<text x="141.00" y="533.20" font-size="6.2" font-weight="bold" text-anchor="middle" fill="#000" >3</text>
<text x="185.30" y="533.20" font-size="6.2" font-weight="bold" text-anchor="middle" fill="#000" >6</text>
<text x="229.80" y="533.20" font-size="6.2" font-weight="bold" text-anchor="middle" fill="#000" >12</text>
<text x="138.70" y="544.10" font-size="8.05" font-weight="normal" text-anchor="middle" fill="#000" >Months After Transplantation</text>
<text transform="translate(10.00,465.00) rotate(-90) scale(1.035,1)" x="0" y="0" font-size="8.2" text-anchor="middle">% Ki67<tspan font-size="6.15" dy="-3.77">+</tspan><tspan dy="3.77"> CD4</tspan><tspan font-size="6.15" dy="-3.77">+</tspan><tspan dy="3.77"> T cells in LN</tspan></text>
<line x1="97.00" y1="380.00" x2="184.70" y2="380.00" stroke="#666" stroke-width="1.0"/>
<text x="141.3" y="376.4" font-size="6.6" text-anchor="middle"><tspan font-style="italic">P</tspan> =.05</text>
<text x="95.4" y="388.1" font-size="6.6" text-anchor="middle"><tspan font-style="italic">P</tspan> =.004</text>
<text x="96.30" y="396.40" font-size="9.2" font-weight="bold" text-anchor="middle" fill="#000" >*</text>
<line x1="52.50" y1="510.00" x2="52.50" y2="518.00" stroke="#d09ca2" stroke-width="0.8"/>
<line x1="50.30" y1="510.00" x2="54.70" y2="510.00" stroke="#d09ca2" stroke-width="0.8"/>
<line x1="50.30" y1="518.00" x2="54.70" y2="518.00" stroke="#d09ca2" stroke-width="0.8"/>
<line x1="97.00" y1="397.00" x2="97.00" y2="413.00" stroke="#d09ca2" stroke-width="0.8"/>
<line x1="94.80" y1="397.00" x2="99.20" y2="397.00" stroke="#d09ca2" stroke-width="0.8"/>
<line x1="94.80" y1="413.00" x2="99.20" y2="413.00" stroke="#d09ca2" stroke-width="0.8"/>
<line x1="141.00" y1="477.00" x2="141.00" y2="496.00" stroke="#d09ca2" stroke-width="0.8"/>
<line x1="138.80" y1="477.00" x2="143.20" y2="477.00" stroke="#d09ca2" stroke-width="0.8"/>
<line x1="138.80" y1="496.00" x2="143.20" y2="496.00" stroke="#d09ca2" stroke-width="0.8"/>
<line x1="185.30" y1="495.10" x2="185.30" y2="505.00" stroke="#d09ca2" stroke-width="0.8"/>
<line x1="183.10" y1="495.10" x2="187.50" y2="495.10" stroke="#d09ca2" stroke-width="0.8"/>
<line x1="183.10" y1="505.00" x2="187.50" y2="505.00" stroke="#d09ca2" stroke-width="0.8"/>
<line x1="229.80" y1="513.00" x2="229.80" y2="524.00" stroke="#a6c4a2" stroke-width="0.8"/>
<line x1="227.60" y1="513.00" x2="232.00" y2="513.00" stroke="#a6c4a2" stroke-width="0.8"/>
<line x1="227.60" y1="524.00" x2="232.00" y2="524.00" stroke="#a6c4a2" stroke-width="0.8"/>
<line x1="97.00" y1="436.00" x2="97.00" y2="454.25" stroke="#a6c4a2" stroke-width="0.8"/>
<line x1="94.80" y1="436.00" x2="99.20" y2="436.00" stroke="#a6c4a2" stroke-width="0.8"/>
<line x1="94.80" y1="454.25" x2="99.20" y2="454.25" stroke="#a6c4a2" stroke-width="0.8"/>
<line x1="141.00" y1="464.25" x2="141.00" y2="501.00" stroke="#a6c4a2" stroke-width="0.8"/>
<line x1="138.80" y1="464.25" x2="143.20" y2="464.25" stroke="#a6c4a2" stroke-width="0.8"/>
<line x1="138.80" y1="501.00" x2="143.20" y2="501.00" stroke="#a6c4a2" stroke-width="0.8"/>
<polyline points="52.50,518.25 97.00,436.25 141.00,501.25 185.30,508.40 229.80,516.40" fill="none" stroke="#1e9e22" stroke-width="1.4" stroke-linejoin="round"/>
<circle cx="52.50" cy="518.25" r="2.65" fill="#1aa61e"/>
<circle cx="97.00" cy="436.25" r="2.65" fill="#1aa61e"/>
<circle cx="141.00" cy="501.25" r="2.65" fill="#1aa61e"/>
<circle cx="185.30" cy="508.40" r="2.65" fill="#1aa61e"/>
<circle cx="229.80" cy="516.40" r="2.65" fill="#1aa61e"/>
<polyline points="52.50,517.50 97.00,413.00 141.00,496.25 185.30,505.60 229.80,513.80" fill="none" stroke="#cc1828" stroke-width="1.4" stroke-linejoin="round"/>
<circle cx="52.50" cy="517.50" r="2.65" fill="#de1220"/>
<circle cx="97.00" cy="413.00" r="2.65" fill="#de1220"/>
<circle cx="141.00" cy="496.25" r="2.65" fill="#de1220"/>
<circle cx="185.30" cy="505.60" r="2.65" fill="#de1220"/>
<circle cx="229.80" cy="513.80" r="2.65" fill="#de1220"/>
<polyline points="52.50,520.00 97.00,490.75 141.00,509.25 185.30,515.60 229.80,517.40" fill="none" stroke="#1c26b8" stroke-width="1.4" stroke-linejoin="round"/>
<circle cx="52.50" cy="520.00" r="2.65" fill="#1a1ed0"/>
<circle cx="97.00" cy="490.75" r="2.65" fill="#1a1ed0"/>
<circle cx="141.00" cy="509.25" r="2.65" fill="#1a1ed0"/>
<circle cx="185.30" cy="515.60" r="2.65" fill="#1a1ed0"/>
<circle cx="229.80" cy="517.40" r="2.65" fill="#1a1ed0"/>
<text transform="translate(269.70,371.60) scale(0.93,1)" x="0" y="0" font-size="19.6" font-weight="bold">F</text>
<line x1="300.50" y1="394.50" x2="300.50" y2="526.50" stroke="#606060" stroke-width="1.0"/>
<line x1="298.40" y1="526.50" x2="517.80" y2="526.50" stroke="#606060" stroke-width="1.0"/>
<line x1="298.90" y1="526.30" x2="300.50" y2="526.30" stroke="#606060" stroke-width="0.9"/>
<line x1="298.90" y1="493.35" x2="300.50" y2="493.35" stroke="#606060" stroke-width="0.9"/>
<line x1="298.90" y1="460.40" x2="300.50" y2="460.40" stroke="#606060" stroke-width="0.9"/>
<line x1="298.90" y1="427.45" x2="300.50" y2="427.45" stroke="#606060" stroke-width="0.9"/>
<line x1="298.90" y1="394.50" x2="300.50" y2="394.50" stroke="#606060" stroke-width="0.9"/>
<line x1="321.25" y1="526.50" x2="321.25" y2="528.30" stroke="#606060" stroke-width="0.9"/>
<line x1="365.50" y1="526.50" x2="365.50" y2="528.30" stroke="#606060" stroke-width="0.9"/>
<line x1="409.70" y1="526.50" x2="409.70" y2="528.30" stroke="#606060" stroke-width="0.9"/>
<line x1="453.70" y1="526.50" x2="453.70" y2="528.30" stroke="#606060" stroke-width="0.9"/>
<line x1="498.00" y1="526.50" x2="498.00" y2="528.30" stroke="#606060" stroke-width="0.9"/>
<text x="295.00" y="528.50" font-size="6.3" font-weight="bold" text-anchor="end" fill="#000" >0</text>
<text x="295.00" y="495.55" font-size="6.3" font-weight="bold" text-anchor="end" fill="#000" >10</text>
<text x="295.00" y="462.60" font-size="6.3" font-weight="bold" text-anchor="end" fill="#000" >20</text>
<text x="295.00" y="429.65" font-size="6.3" font-weight="bold" text-anchor="end" fill="#000" >30</text>
<text x="295.00" y="396.70" font-size="6.3" font-weight="bold" text-anchor="end" fill="#000" >40</text>
<text x="321.25" y="533.20" font-size="6.2" font-weight="bold" text-anchor="middle" fill="#000" >pre</text>
<text x="365.50" y="533.20" font-size="6.2" font-weight="bold" text-anchor="middle" fill="#000" >1</text>
<text x="409.70" y="533.20" font-size="6.2" font-weight="bold" text-anchor="middle" fill="#000" >3</text>
<text x="453.70" y="533.20" font-size="6.2" font-weight="bold" text-anchor="middle" fill="#000" >6</text>
<text x="498.00" y="533.20" font-size="6.2" font-weight="bold" text-anchor="middle" fill="#000" >12</text>
<text x="412.90" y="544.10" font-size="8.05" font-weight="normal" text-anchor="middle" fill="#000" >Months After Transplantation</text>
<text transform="translate(279.00,465.00) rotate(-90) scale(1.035,1)" x="0" y="0" font-size="8.2" text-anchor="middle">% Ki67<tspan font-size="6.15" dy="-3.77">+</tspan><tspan dy="3.77"> CD8</tspan><tspan font-size="6.15" dy="-3.77">+</tspan><tspan dy="3.77"> T cells in LN</tspan></text>
<line x1="364.50" y1="380.00" x2="453.00" y2="380.00" stroke="#666" stroke-width="1.0"/>
<text x="410.3" y="376.4" font-size="6.6" text-anchor="middle"><tspan font-style="italic">P</tspan> =.05</text>
<text x="363.7" y="388.1" font-size="6.6" text-anchor="middle"><tspan font-style="italic">P</tspan> =.004</text>
<text x="363.80" y="395.60" font-size="9.2" font-weight="bold" text-anchor="middle" fill="#000" >*</text>
<line x1="321.25" y1="510.75" x2="321.25" y2="520.00" stroke="#d09ca2" stroke-width="0.8"/>
<line x1="319.05" y1="510.75" x2="323.45" y2="510.75" stroke="#d09ca2" stroke-width="0.8"/>
<line x1="319.05" y1="520.00" x2="323.45" y2="520.00" stroke="#d09ca2" stroke-width="0.8"/>
<line x1="365.50" y1="423.00" x2="365.50" y2="432.50" stroke="#d09ca2" stroke-width="0.8"/>
<line x1="363.30" y1="423.00" x2="367.70" y2="423.00" stroke="#d09ca2" stroke-width="0.8"/>
<line x1="363.30" y1="432.50" x2="367.70" y2="432.50" stroke="#d09ca2" stroke-width="0.8"/>
<line x1="409.70" y1="472.40" x2="409.70" y2="491.60" stroke="#d09ca2" stroke-width="0.8"/>
<line x1="407.50" y1="472.40" x2="411.90" y2="472.40" stroke="#d09ca2" stroke-width="0.8"/>
<line x1="407.50" y1="491.60" x2="411.90" y2="491.60" stroke="#d09ca2" stroke-width="0.8"/>
<line x1="453.70" y1="487.90" x2="453.70" y2="502.00" stroke="#d09ca2" stroke-width="0.8"/>
<line x1="451.50" y1="487.90" x2="455.90" y2="487.90" stroke="#d09ca2" stroke-width="0.8"/>
<line x1="451.50" y1="502.00" x2="455.90" y2="502.00" stroke="#d09ca2" stroke-width="0.8"/>
<line x1="498.00" y1="504.10" x2="498.00" y2="522.00" stroke="#a6c4a2" stroke-width="0.8"/>
<line x1="495.80" y1="504.10" x2="500.20" y2="504.10" stroke="#a6c4a2" stroke-width="0.8"/>
<line x1="495.80" y1="522.00" x2="500.20" y2="522.00" stroke="#a6c4a2" stroke-width="0.8"/>
<line x1="365.50" y1="463.25" x2="365.50" y2="497.00" stroke="#a6c4a2" stroke-width="0.8"/>
<line x1="363.30" y1="463.25" x2="367.70" y2="463.25" stroke="#a6c4a2" stroke-width="0.8"/>
<line x1="363.30" y1="497.00" x2="367.70" y2="497.00" stroke="#a6c4a2" stroke-width="0.8"/>
<line x1="409.70" y1="447.20" x2="409.70" y2="501.25" stroke="#a6c4a2" stroke-width="0.8"/>
<line x1="407.50" y1="447.20" x2="411.90" y2="447.20" stroke="#a6c4a2" stroke-width="0.8"/>
<line x1="407.50" y1="501.25" x2="411.90" y2="501.25" stroke="#a6c4a2" stroke-width="0.8"/>
<polyline points="321.25,518.00 365.50,483.25 409.70,496.00 453.70,511.00 498.00,515.00" fill="none" stroke="#1e9e22" stroke-width="1.4" stroke-linejoin="round"/>
<circle cx="321.25" cy="518.00" r="2.65" fill="#1aa61e"/>
<circle cx="365.50" cy="483.25" r="2.65" fill="#1aa61e"/>
<circle cx="409.70" cy="496.00" r="2.65" fill="#1aa61e"/>
<circle cx="453.70" cy="511.00" r="2.65" fill="#1aa61e"/>
<circle cx="498.00" cy="515.00" r="2.65" fill="#1aa61e"/>
<polyline points="321.25,520.00 365.50,432.50 409.70,491.60 453.70,502.00 498.00,512.80" fill="none" stroke="#cc1828" stroke-width="1.4" stroke-linejoin="round"/>
<circle cx="321.25" cy="520.00" r="2.65" fill="#de1220"/>
<circle cx="365.50" cy="432.50" r="2.65" fill="#de1220"/>
<circle cx="409.70" cy="491.60" r="2.65" fill="#de1220"/>
<circle cx="453.70" cy="502.00" r="2.65" fill="#de1220"/>
<circle cx="498.00" cy="512.80" r="2.65" fill="#de1220"/>
<polyline points="321.25,515.75 365.50,482.00 409.70,508.80 453.70,513.80 498.00,515.60" fill="none" stroke="#1c26b8" stroke-width="1.4" stroke-linejoin="round"/>
<circle cx="321.25" cy="515.75" r="2.65" fill="#1a1ed0"/>
<circle cx="365.50" cy="482.00" r="2.65" fill="#1a1ed0"/>
<circle cx="409.70" cy="508.80" r="2.65" fill="#1a1ed0"/>
<circle cx="453.70" cy="513.80" r="2.65" fill="#1a1ed0"/>
<circle cx="498.00" cy="515.60" r="2.65" fill="#1a1ed0"/>
</svg>
</body></html>
